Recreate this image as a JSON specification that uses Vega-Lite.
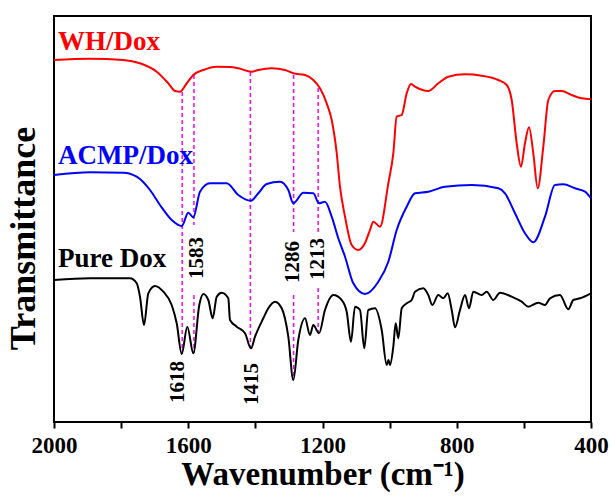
{
  "$schema": "https://vega.github.io/schema/vega-lite/v6.json",
  "width": 537,
  "height": 406,
  "autosize": {"type": "none"},
  "padding": {"left": 54, "top": 16, "right": 20, "bottom": 78},
  "background": "white",
  "config": {
    "font": "Liberation Serif",
    "view": {"stroke": "black", "strokeWidth": 2}
  },
  "datasets": {
    "spectra": [
      {"series": "WH/Dox", "wn": 2000, "t": 362},
      {"series": "WH/Dox", "wn": 1893, "t": 363.3},
      {"series": "WH/Dox", "wn": 1793.5, "t": 362},
      {"series": "WH/Dox", "wn": 1743.8, "t": 358.7},
      {"series": "WH/Dox", "wn": 1694, "t": 350.3},
      {"series": "WH/Dox", "wn": 1659.4, "t": 338.7},
      {"series": "WH/Dox", "wn": 1639.5, "t": 331},
      {"series": "WH/Dox", "wn": 1624.6, "t": 330.3},
      {"series": "WH/Dox", "wn": 1604.6, "t": 338.7},
      {"series": "WH/Dox", "wn": 1584.9, "t": 347},
      {"series": "WH/Dox", "wn": 1555.2, "t": 352},
      {"series": "WH/Dox", "wn": 1515.2, "t": 355.3},
      {"series": "WH/Dox", "wn": 1475.6, "t": 355},
      {"series": "WH/Dox", "wn": 1450.9, "t": 353.7},
      {"series": "WH/Dox", "wn": 1411, "t": 350.3},
      {"series": "WH/Dox", "wn": 1391.3, "t": 352},
      {"series": "WH/Dox", "wn": 1351.4, "t": 353.7},
      {"series": "WH/Dox", "wn": 1311.7, "t": 352},
      {"series": "WH/Dox", "wn": 1287, "t": 348.7},
      {"series": "WH/Dox", "wn": 1252.1, "t": 347},
      {"series": "WH/Dox", "wn": 1227.4, "t": 342},
      {"series": "WH/Dox", "wn": 1207.5, "t": 333.7},
      {"series": "WH/Dox", "wn": 1187.5, "t": 318.7},
      {"series": "WH/Dox", "wn": 1172.6, "t": 302},
      {"series": "WH/Dox", "wn": 1157.7, "t": 269},
      {"series": "WH/Dox", "wn": 1147.9, "t": 235.3},
      {"series": "WH/Dox", "wn": 1132.9, "t": 205.3},
      {"series": "WH/Dox", "wn": 1113, "t": 177},
      {"series": "WH/Dox", "wn": 1093.3, "t": 172},
      {"series": "WH/Dox", "wn": 1073.4, "t": 179},
      {"series": "WH/Dox", "wn": 1058.5, "t": 192},
      {"series": "WH/Dox", "wn": 1048.6, "t": 200.3},
      {"series": "WH/Dox", "wn": 1028.7, "t": 195.3},
      {"series": "WH/Dox", "wn": 1003.9, "t": 238.7},
      {"series": "WH/Dox", "wn": 989, "t": 268.7},
      {"series": "WH/Dox", "wn": 978.9, "t": 305.3},
      {"series": "WH/Dox", "wn": 964, "t": 307},
      {"series": "WH/Dox", "wn": 949.1, "t": 328.7},
      {"series": "WH/Dox", "wn": 936.3, "t": 338},
      {"series": "WH/Dox", "wn": 924.4, "t": 335.3},
      {"series": "WH/Dox", "wn": 884.8, "t": 331},
      {"series": "WH/Dox", "wn": 855, "t": 338.7},
      {"series": "WH/Dox", "wn": 825.2, "t": 345.3},
      {"series": "WH/Dox", "wn": 775.4, "t": 347.7},
      {"series": "WH/Dox", "wn": 725.6, "t": 346.3},
      {"series": "WH/Dox", "wn": 676.2, "t": 342},
      {"series": "WH/Dox", "wn": 651.1, "t": 337},
      {"series": "WH/Dox", "wn": 636.3, "t": 322},
      {"series": "WH/Dox", "wn": 621.4, "t": 278.7},
      {"series": "WH/Dox", "wn": 608.6, "t": 255.3},
      {"series": "WH/Dox", "wn": 596.7, "t": 278.7},
      {"series": "WH/Dox", "wn": 584.7, "t": 294.7},
      {"series": "WH/Dox", "wn": 571.9, "t": 268.7},
      {"series": "WH/Dox", "wn": 558.8, "t": 233.7},
      {"series": "WH/Dox", "wn": 542.1, "t": 275.3},
      {"series": "WH/Dox", "wn": 527.2, "t": 322},
      {"series": "WH/Dox", "wn": 507.3, "t": 331},
      {"series": "WH/Dox", "wn": 487.3, "t": 331},
      {"series": "WH/Dox", "wn": 457.5, "t": 327},
      {"series": "WH/Dox", "wn": 427.7, "t": 323.7},
      {"series": "WH/Dox", "wn": 400, "t": 322.7},

      {"series": "ACMP/Dox", "wn": 2000, "t": 247},
      {"series": "ACMP/Dox", "wn": 1893, "t": 249.7},
      {"series": "ACMP/Dox", "wn": 1793.5, "t": 249.3},
      {"series": "ACMP/Dox", "wn": 1753.6, "t": 245.3},
      {"series": "ACMP/Dox", "wn": 1714, "t": 232},
      {"series": "ACMP/Dox", "wn": 1684.2, "t": 217},
      {"series": "ACMP/Dox", "wn": 1649.3, "t": 202},
      {"series": "ACMP/Dox", "wn": 1619.5, "t": 196},
      {"series": "ACMP/Dox", "wn": 1599.8, "t": 209.3},
      {"series": "ACMP/Dox", "wn": 1584.9, "t": 204.7},
      {"series": "ACMP/Dox", "wn": 1565, "t": 230.3},
      {"series": "ACMP/Dox", "wn": 1535.2, "t": 238.7},
      {"series": "ACMP/Dox", "wn": 1485.5, "t": 238.7},
      {"series": "ACMP/Dox", "wn": 1450.9, "t": 227},
      {"series": "ACMP/Dox", "wn": 1413, "t": 221.3},
      {"series": "ACMP/Dox", "wn": 1391.3, "t": 228.7},
      {"series": "ACMP/Dox", "wn": 1366.3, "t": 238},
      {"series": "ACMP/Dox", "wn": 1326.6, "t": 240.3},
      {"series": "ACMP/Dox", "wn": 1301.9, "t": 232},
      {"series": "ACMP/Dox", "wn": 1287, "t": 218.7},
      {"series": "ACMP/Dox", "wn": 1257.2, "t": 229.3},
      {"series": "ACMP/Dox", "wn": 1227.4, "t": 228.7},
      {"series": "ACMP/Dox", "wn": 1210.4, "t": 218.7},
      {"series": "ACMP/Dox", "wn": 1192.6, "t": 220.3},
      {"series": "ACMP/Dox", "wn": 1172.6, "t": 205.3},
      {"series": "ACMP/Dox", "wn": 1152.9, "t": 183.7},
      {"series": "ACMP/Dox", "wn": 1132.9, "t": 165.3},
      {"series": "ACMP/Dox", "wn": 1108.2, "t": 138.7},
      {"series": "ACMP/Dox", "wn": 1073.4, "t": 128},
      {"series": "ACMP/Dox", "wn": 1033.7, "t": 140.3},
      {"series": "ACMP/Dox", "wn": 1003.9, "t": 160.3},
      {"series": "ACMP/Dox", "wn": 978.9, "t": 192},
      {"series": "ACMP/Dox", "wn": 949.1, "t": 215.3},
      {"series": "ACMP/Dox", "wn": 924.4, "t": 228.7},
      {"series": "ACMP/Dox", "wn": 884.8, "t": 230.3},
      {"series": "ACMP/Dox", "wn": 835, "t": 235.3},
      {"series": "ACMP/Dox", "wn": 755.5, "t": 237},
      {"series": "ACMP/Dox", "wn": 676.2, "t": 233.7},
      {"series": "ACMP/Dox", "wn": 656.3, "t": 228.7},
      {"series": "ACMP/Dox", "wn": 626.4, "t": 208.7},
      {"series": "ACMP/Dox", "wn": 596.7, "t": 188.7},
      {"series": "ACMP/Dox", "wn": 571.9, "t": 179.7},
      {"series": "ACMP/Dox", "wn": 537.1, "t": 205.3},
      {"series": "ACMP/Dox", "wn": 507.3, "t": 237},
      {"series": "ACMP/Dox", "wn": 482.3, "t": 237.7},
      {"series": "ACMP/Dox", "wn": 447.7, "t": 233.7},
      {"series": "ACMP/Dox", "wn": 417.8, "t": 230.3},
      {"series": "ACMP/Dox", "wn": 400, "t": 223.7},

      {"series": "Pure Dox", "wn": 2000, "t": 142},
      {"series": "Pure Dox", "wn": 1893, "t": 143.7},
      {"series": "Pure Dox", "wn": 1773.6, "t": 143.7},
      {"series": "Pure Dox", "wn": 1753.6, "t": 138.7},
      {"series": "Pure Dox", "wn": 1743.8, "t": 125.3},
      {"series": "Pure Dox", "wn": 1731.8, "t": 97},
      {"series": "Pure Dox", "wn": 1719, "t": 128.7},
      {"series": "Pure Dox", "wn": 1699.1, "t": 136},
      {"series": "Pure Dox", "wn": 1674.3, "t": 130.3},
      {"series": "Pure Dox", "wn": 1649.3, "t": 117},
      {"series": "Pure Dox", "wn": 1634.4, "t": 98.7},
      {"series": "Pure Dox", "wn": 1619.5, "t": 68},
      {"series": "Pure Dox", "wn": 1602.8, "t": 95.3},
      {"series": "Pure Dox", "wn": 1584.9, "t": 68.7},
      {"series": "Pure Dox", "wn": 1567.1, "t": 117},
      {"series": "Pure Dox", "wn": 1555.2, "t": 128},
      {"series": "Pure Dox", "wn": 1540.3, "t": 122},
      {"series": "Pure Dox", "wn": 1527.2, "t": 103.7},
      {"series": "Pure Dox", "wn": 1515.2, "t": 125.3},
      {"series": "Pure Dox", "wn": 1500.3, "t": 129.3},
      {"series": "Pure Dox", "wn": 1480.7, "t": 123.7},
      {"series": "Pure Dox", "wn": 1475.6, "t": 102},
      {"series": "Pure Dox", "wn": 1455.6, "t": 95.3},
      {"series": "Pure Dox", "wn": 1430.9, "t": 88.7},
      {"series": "Pure Dox", "wn": 1413, "t": 73.7},
      {"series": "Pure Dox", "wn": 1401.1, "t": 85.3},
      {"series": "Pure Dox", "wn": 1376.4, "t": 103.7},
      {"series": "Pure Dox", "wn": 1361.5, "t": 113.7},
      {"series": "Pure Dox", "wn": 1341.5, "t": 120.3},
      {"series": "Pure Dox", "wn": 1321.6, "t": 113.7},
      {"series": "Pure Dox", "wn": 1301.9, "t": 85.3},
      {"series": "Pure Dox", "wn": 1287, "t": 42},
      {"series": "Pure Dox", "wn": 1272.1, "t": 82},
      {"series": "Pure Dox", "wn": 1252.1, "t": 103.7},
      {"series": "Pure Dox", "wn": 1237.3, "t": 87},
      {"series": "Pure Dox", "wn": 1227.4, "t": 97},
      {"series": "Pure Dox", "wn": 1210.4, "t": 88.7},
      {"series": "Pure Dox", "wn": 1192.6, "t": 112},
      {"series": "Pure Dox", "wn": 1167.8, "t": 127},
      {"series": "Pure Dox", "wn": 1142.8, "t": 122},
      {"series": "Pure Dox", "wn": 1127.9, "t": 110.3},
      {"series": "Pure Dox", "wn": 1115.1, "t": 80.3},
      {"series": "Pure Dox", "wn": 1103.2, "t": 115.3},
      {"series": "Pure Dox", "wn": 1088.3, "t": 112},
      {"series": "Pure Dox", "wn": 1075.5, "t": 73.7},
      {"series": "Pure Dox", "wn": 1063.6, "t": 112},
      {"series": "Pure Dox", "wn": 1043.6, "t": 113.7},
      {"series": "Pure Dox", "wn": 1023.6, "t": 92},
      {"series": "Pure Dox", "wn": 1008.7, "t": 57},
      {"series": "Pure Dox", "wn": 1003.5, "t": 62},
      {"series": "Pure Dox", "wn": 998.9, "t": 57},
      {"series": "Pure Dox", "wn": 989, "t": 75.3},
      {"series": "Pure Dox", "wn": 981.9, "t": 98.7},
      {"series": "Pure Dox", "wn": 974.1, "t": 83.7},
      {"series": "Pure Dox", "wn": 964, "t": 113.7},
      {"series": "Pure Dox", "wn": 949.1, "t": 118.7},
      {"series": "Pure Dox", "wn": 934.2, "t": 122},
      {"series": "Pure Dox", "wn": 924.4, "t": 130.3},
      {"series": "Pure Dox", "wn": 899.7, "t": 133.7},
      {"series": "Pure Dox", "wn": 884.8, "t": 127},
      {"series": "Pure Dox", "wn": 872.8, "t": 117},
      {"series": "Pure Dox", "wn": 855, "t": 127},
      {"series": "Pure Dox", "wn": 840, "t": 123.7},
      {"series": "Pure Dox", "wn": 827, "t": 128.7},
      {"series": "Pure Dox", "wn": 815, "t": 112},
      {"series": "Pure Dox", "wn": 805.2, "t": 94.7},
      {"series": "Pure Dox", "wn": 790.3, "t": 112},
      {"series": "Pure Dox", "wn": 775.4, "t": 127},
      {"series": "Pure Dox", "wn": 763.5, "t": 113.7},
      {"series": "Pure Dox", "wn": 750.7, "t": 130.3},
      {"series": "Pure Dox", "wn": 725.6, "t": 127},
      {"series": "Pure Dox", "wn": 710.7, "t": 130.3},
      {"series": "Pure Dox", "wn": 691, "t": 122},
      {"series": "Pure Dox", "wn": 671.1, "t": 129.3},
      {"series": "Pure Dox", "wn": 636.3, "t": 125.3},
      {"series": "Pure Dox", "wn": 606.5, "t": 120.3},
      {"series": "Pure Dox", "wn": 586.8, "t": 115.3},
      {"series": "Pure Dox", "wn": 557, "t": 119.3},
      {"series": "Pure Dox", "wn": 537.1, "t": 117},
      {"series": "Pure Dox", "wn": 522.2, "t": 123.7},
      {"series": "Pure Dox", "wn": 492.4, "t": 127},
      {"series": "Pure Dox", "wn": 467.6, "t": 112.7},
      {"series": "Pure Dox", "wn": 452.7, "t": 122},
      {"series": "Pure Dox", "wn": 432.8, "t": 123.7},
      {"series": "Pure Dox", "wn": 400, "t": 128.7}
    ],
    "rules": [
      {"wn": 1618, "t": 330, "t2": 68},
      {"wn": 1583, "t": 347, "t2": 197},
      {"wn": 1583, "t": 127, "t2": 69},
      {"wn": 1415, "t": 350, "t2": 74},
      {"wn": 1286, "t": 347, "t2": 190},
      {"wn": 1286, "t": 127, "t2": 45},
      {"wn": 1213, "t": 334, "t2": 190},
      {"wn": 1213, "t": 134, "t2": 90}
    ],
    "seriesLabels": [
      {"series": "WH/Dox", "wn": 1988, "t": 372},
      {"series": "ACMP/Dox", "wn": 1988, "t": 258},
      {"series": "Pure Dox", "wn": 1988, "t": 155}
    ],
    "peakLabels": [
      {"label": "1618", "wn": 1630, "t": 40},
      {"label": "1583", "wn": 1575, "t": 164},
      {"label": "1415", "wn": 1411, "t": 38},
      {"label": "1286", "wn": 1287, "t": 160},
      {"label": "1213", "wn": 1214, "t": 163}
    ]
  },
  "encoding": {
    "x": {
      "field": "wn",
      "type": "quantitative",
      "scale": {"domain": [400, 2000], "reverse": true, "nice": false, "zero": false},
      "axis": {
        "title": "Wavenumber (cm⁻¹)",
        "values": [2000, 1800, 1600, 1400, 1200, 1000, 800, 600, 400],
        "labelExpr": "datum.value % 400 == 0 ? datum.label : ''",
        "format": "d",
        "grid": false,
        "domain": false,
        "tickColor": "black",
        "tickWidth": 2,
        "tickSize": 6,
        "labelFont": "Liberation Serif",
        "labelFontWeight": "bold",
        "labelFontSize": 23,
        "labelColor": "black",
        "labelPadding": 6,
        "labelFlush": false,
        "labelOverlap": false,
        "titleFont": "Liberation Serif",
        "titleFontWeight": "bold",
        "titleFontSize": 33,
        "titleColor": "black",
        "titleBaseline": "alphabetic",
        "titleY": 62
      }
    },
    "y": {
      "field": "t",
      "type": "quantitative",
      "scale": {"domain": [0, 406], "nice": false, "zero": false},
      "axis": {
        "title": "Transmittance",
        "labels": false,
        "ticks": false,
        "domain": false,
        "grid": false,
        "titleFont": "Liberation Serif",
        "titleFontWeight": "bold",
        "titleFontSize": 36,
        "titleColor": "black",
        "titleAngle": 270,
        "titleAlign": "center",
        "titleBaseline": "alphabetic",
        "titleX": -20,
        "titleY": 222
      }
    }
  },
  "layer": [
    {
      "data": {"name": "rules"},
      "mark": {"type": "rule", "color": "#ff00ff", "strokeWidth": 1.5, "strokeDash": [4, 3]},
      "encoding": {
        "y2": {"field": "t2"}
      }
    },
    {
      "data": {"name": "spectra"},
      "mark": {"type": "line", "strokeWidth": 2, "interpolate": "monotone"},
      "encoding": {
        "color": {
          "field": "series",
          "type": "nominal",
          "scale": {"domain": ["WH/Dox", "ACMP/Dox", "Pure Dox"], "range": ["#ff0000", "#0000ff", "#000000"]},
          "legend": null
        },
        "detail": {"field": "series"}
      }
    },
    {
      "data": {"name": "seriesLabels"},
      "mark": {"type": "text", "align": "left", "baseline": "alphabetic", "font": "Liberation Serif", "fontWeight": "bold", "fontSize": 27},
      "encoding": {
        "text": {"field": "series"},
        "color": {"field": "series", "type": "nominal", "legend": null}
      }
    },
    {
      "data": {"name": "peakLabels"},
      "mark": {"type": "text", "angle": 270, "align": "center", "baseline": "middle", "font": "Liberation Serif", "fontWeight": "bold", "fontSize": 21, "color": "black"},
      "encoding": {
        "text": {"field": "label"}
      }
    }
  ]
}
